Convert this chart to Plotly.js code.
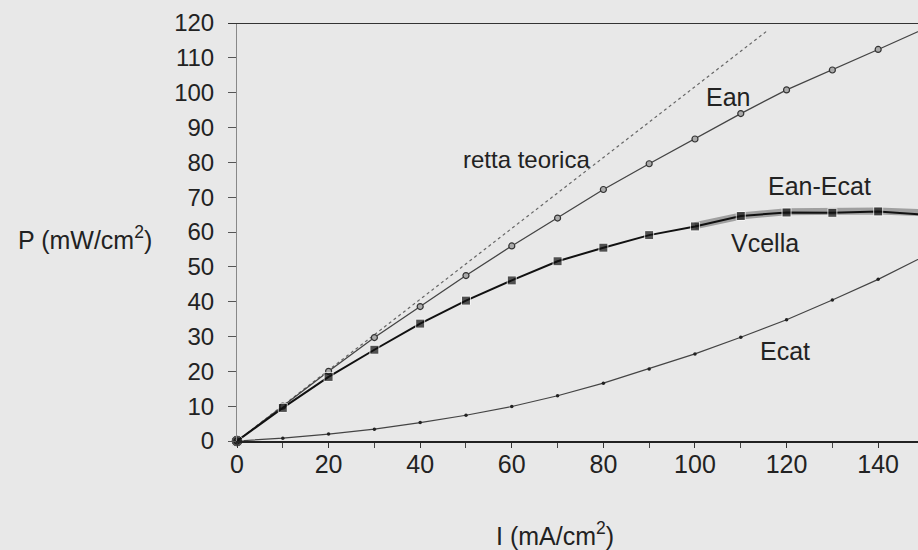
<!DOCTYPE html>
<html>
<head>
<meta charset="utf-8">
<script src="https://cdn.plot.ly/plotly-3.0.1.min.js"></script>
<style>
  html, body { margin: 0; padding: 0; background: #e8e8e8; }
  #chart { width: 918px; height: 550px; }
</style>
</head>
<body>
<div id="chart"></div>
<script>
// Current density I (mA/cm2)
var currentI = [0, 10, 20, 30, 40, 50, 60, 70, 80, 90, 100, 110, 120, 130, 140, 150];
// Power curves P (mW/cm2)
var ean    = [0, 10, 20, 29.7, 38.6, 47.5, 56, 64, 72.2, 79.6, 86.7, 94, 100.8, 106.5, 112.4, 118.3];
var ecat   = [0, 0.8, 2, 3.4, 5.3, 7.4, 9.9, 13, 16.6, 20.7, 25, 29.8, 34.8, 40.5, 46.4, 53];
var vcella = [0, 9.5, 18.4, 26.2, 33.7, 40.3, 46.1, 51.6, 55.5, 59.1, 61.6, 64.6, 65.6, 65.5, 65.9, 65];
var eanEcatI = [100, 110, 120, 130, 140, 150];
var eanEcat  = [61.8, 64.6, 65.8, 66, 66, 65.5];
// Theoretical line
var rettaI = [0, 116];
var rettaP = [0, 118];

var xTicks = [0, 20, 40, 60, 80, 100, 120, 140];
var yTicks = [0, 10, 20, 30, 40, 50, 60, 70, 80, 90, 100, 110, 120];

var FONT = 'Liberation Sans, Arial, sans-serif';
var labelFont = {family: FONT, size: 25, color: '#222'};

var traces = [
  {x: rettaI, y: rettaP, mode: 'lines', line: {color: '#666', width: 1.2, dash: 'dot'}, hoverinfo: 'skip'},
  {x: eanEcatI, y: eanEcat, mode: 'lines', line: {color: '#a0a0a0', width: 7}, hoverinfo: 'skip'},
  {x: currentI, y: ean, mode: 'lines+markers', line: {color: '#444', width: 1.3},
   marker: {symbol: 'circle', size: 6, color: '#aaa', line: {color: '#333', width: 1.2}}, cliponaxis: false},
  {x: currentI, y: ecat, mode: 'lines+markers', line: {color: '#444', width: 1.2},
   marker: {symbol: 'circle', size: 3.5, color: '#222'}, cliponaxis: false},
  {x: currentI, y: vcella, mode: 'lines+markers', line: {color: '#111', width: 2},
   marker: {symbol: ['circle','square','square','square','square','square','square','square','square','square','square','square','square','square','square','square'],
            size: [12,9,9,9,9,9,9,9,9,9,9,9,9,9,9,9], color: '#111'}, cliponaxis: false}
];

var layout = {
  width: 918, height: 550,
  paper_bgcolor: '#e8e8e8', plot_bgcolor: '#e8e8e8',
  showlegend: false,
  margin: {l: 237, r: 0, t: 23, b: 109},
  font: {family: FONT, size: 24, color: '#222'},
  xaxis: {
    range: [0, 148.7], tickvals: xTicks, ticktext: xTicks.map(String),
    ticks: 'outside', ticklen: 5, tickcolor: '#333', tickwidth: 1,
    minor: {dtick: 10, tick0: 0, ticks: 'outside', ticklen: 5, tickcolor: '#444'},
    showgrid: false, zeroline: false, showline: true, linecolor: '#222', linewidth: 2,
    ticklabelstandoff: -5, tickfont: {family: FONT, size: 25, color: '#222'}, fixedrange: true
  },
  yaxis: {
    range: [0, 120], tickvals: yTicks, ticktext: yTicks.map(String),
    ticks: 'outside', ticklen: 8, tickcolor: '#555', tickwidth: 1,
    showgrid: false, zeroline: false, showline: true, linecolor: '#888', linewidth: 1,
    ticklabelstandoff: 9, tickfont: {family: FONT, size: 24, color: '#222'}, fixedrange: true
  },
  shapes: [
    {type: 'line', xref: 'paper', yref: 'y', x0: -0.013, x1: 1, y0: 120, y1: 120,
     line: {color: '#333', width: 2}}
  ],
  annotations: [
    {text: 'retta teorica', x: 63.3, y: 80.7, xref: 'x', yref: 'y', showarrow: false, font: {family: FONT, size: 24, color: '#222'}},
    {text: 'Ean', x: 107.2, y: 98.9, xref: 'x', yref: 'y', showarrow: false, font: labelFont},
    {text: 'Ean-Ecat', x: 127.3, y: 73.3, xref: 'x', yref: 'y', showarrow: false, font: labelFont},
    {text: 'Vcella', x: 115.3, y: 56.9, xref: 'x', yref: 'y', showarrow: false, font: labelFont},
    {text: 'Ecat', x: 119.7, y: 25.9, xref: 'x', yref: 'y', showarrow: false, font: labelFont},
    {text: 'P (mW/cm<sup>2</sup>)', x: -0.223, y: 0.485, xref: 'paper', yref: 'paper',
     xanchor: 'center', yanchor: 'middle', showarrow: false,
     font: {family: FONT, size: 25, color: '#222'}},
    {text: 'I (mA/cm<sup>2</sup>)', x: 0.467, y: -0.222, xref: 'paper', yref: 'paper',
     xanchor: 'center', yanchor: 'middle', showarrow: false,
     font: {family: FONT, size: 25, color: '#222'}}
  ]
};

Plotly.newPlot('chart', traces, layout, {displayModeBar: false, staticPlot: true});
</script>
</body>
</html>
